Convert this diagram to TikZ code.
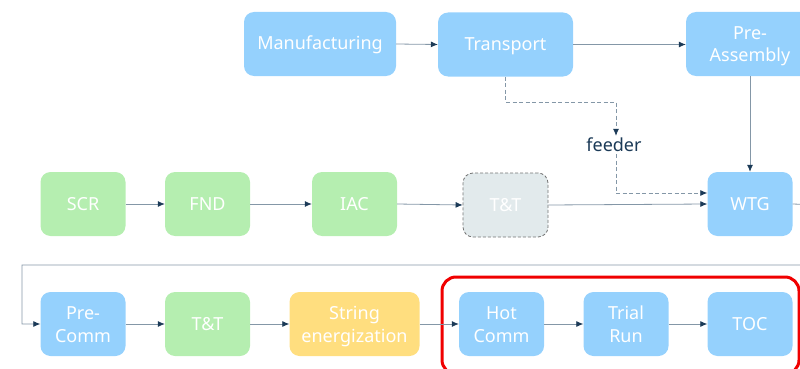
\documentclass[tikz,border=0pt]{standalone}
\usepackage{fontspec}
\setmainfont{Noto Sans}
\usetikzlibrary{arrows.meta}
\definecolor{boxblue}{HTML}{95D1FD}
\definecolor{boxgreen}{HTML}{B5EEB0}
\definecolor{boxyellow}{HTML}{FFDE7F}
\definecolor{boxgray}{HTML}{E2EAEC}
\definecolor{linegray}{HTML}{8497A7}
\definecolor{navy}{HTML}{1B3A57}
\definecolor{hlred}{HTML}{F00000}
\begin{document}
\begin{tikzpicture}[x=1pt,y=-1pt,
  stage/.style={rounded corners=10pt, minimum width=85pt, minimum height=64pt,
    text=white, font=\fontsize{18}{22.5}\selectfont, align=center, inner sep=0pt},
  oneline/.style={text height=14pt, text depth=2pt},
  twoline/.style={text height=40pt, text depth=4pt},
  bluebox/.style={stage, fill=boxblue},
  greenbox/.style={stage, fill=boxgreen},
  yellowbox/.style={stage, fill=boxyellow},
  graybox/.style={stage, fill=boxgray, draw=gray!90!black, dash pattern=on 3pt off 2pt, line width=0.8pt},
  conn/.style={draw=linegray, line width=0.8pt, -{Latex[length=7pt,width=6pt,color=navy]}},
  dconn/.style={conn, dash pattern=on 4pt off 2.5pt},
  lbl/.style={text=navy, font=\fontsize{18}{22}\selectfont, inner sep=2pt},
  hilite/.style={draw=hlred, line width=3pt, rounded corners=14pt}
]
\useasboundingbox (0,0) rectangle (800,369);
\clip (0,0) rectangle (800,369);

% row 1
\node[bluebox, oneline, minimum width=152pt] (man) at (320,44) {Manufacturing};
\node[bluebox, oneline, minimum width=135pt] (trans) at (505.5,44.5) {Transport};
\node[bluebox, twoline, minimum width=128pt] (pre) at (750,44) {Pre-\\Assembly};
\node[lbl] (feed) at (614,145) {feeder};

% row 2
\node[greenbox, oneline] (scr) at (83,204) {SCR};
\node[greenbox, oneline] (fnd) at (207.5,204) {FND};
\node[greenbox, oneline] (iac) at (354.5,204) {IAC};
\node[graybox, oneline] (tt1) at (505.5,205) {T\&T};
\node[bluebox, oneline] (wtg) at (750,204) {WTG};

% row 3
\node[bluebox, twoline] (pc) at (83,324) {Pre-\\Comm};
\node[greenbox, oneline] (tt2) at (207.5,324) {T\&T};
\node[yellowbox, twoline, minimum width=130pt] (str) at (354.5,324) {String\\energization};
\node[bluebox, twoline] (hot) at (501.5,324) {Hot\\Comm};
\node[bluebox, twoline] (trial) at (626,324) {Trial\\Run};
\node[bluebox, oneline] (toc) at (750,324) {TOC};

% highlight
\draw[hilite] (442,277) rectangle (799,374);

% helper coordinates
\coordinate (fd1) at (616,102);
\coordinate (fd2) at (616,193);
\coordinate (out1) at (820,205);
\coordinate (out2) at (820,265);
\coordinate (ret) at (22,265);

% connectors row 1
\draw[conn] (man.east) -- (trans.west);
\draw[conn] (trans.east) -- (pre.west |- trans.east);
\draw[conn] (pre.south) -- (wtg.north);
\draw[dconn] (trans.south) |- (fd1) -- (fd1 |- feed.north);
\draw[dconn] (fd1 |- feed.south) -- (fd2) -- (fd2 -| wtg.west);

% row 2
\draw[conn] (scr.east) -- (fnd.west);
\draw[conn] (fnd.east) -- (iac.west);
\draw[conn] (iac.east) -- (tt1.west);
\draw[conn] (tt1.east) -- (wtg.west);
\draw[conn] (wtg.east) -- (out1) -- (out2) -- (ret) |- (pc.west);

% row 3
\draw[conn] (pc.east) -- (tt2.west);
\draw[conn] (tt2.east) -- (str.west);
\draw[conn] (str.east) -- (hot.west);
\draw[conn] (hot.east) -- (trial.west);
\draw[conn] (trial.east) -- (toc.west);
\end{tikzpicture}
\end{document}
